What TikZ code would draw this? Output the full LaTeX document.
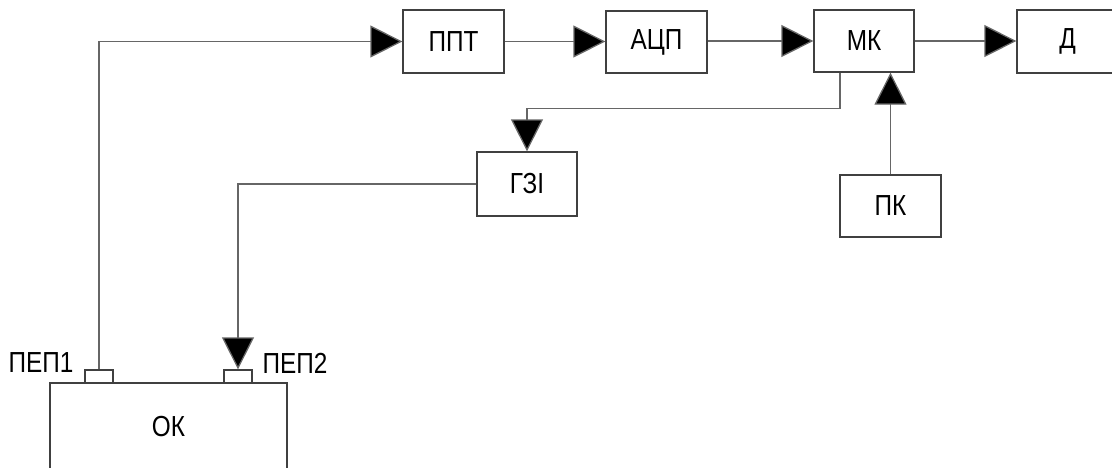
\documentclass[tikz,border=0pt]{standalone}
\usepackage{fontspec}
\setmainfont[FakeStretch=0.84]{Liberation Sans}
\usetikzlibrary{arrows.meta}
\begin{document}
\begin{tikzpicture}[x=1pt,y=-1pt,
  blk/.style={draw=black!75, line width=1.3pt, fill=white, inner sep=0pt, font=\fontsize{29}{33}\selectfont},
  pep/.style={draw=black!75, line width=1.3pt, fill=white, inner sep=0pt, minimum width=28pt, minimum height=13pt},
  lbl/.style={inner sep=0pt, font=\fontsize{29}{33}\selectfont},
  conn/.style={draw=black!60, line width=1.3pt},
  arr/.style={conn, -{Triangle[length=32pt,width=32pt,fill=black]}}]
\useasboundingbox (0,0) rectangle (1112,467);
\node[blk, minimum width=101pt, minimum height=63pt] (ppt) at (453.5,41.5) {ППТ};
\node[blk, minimum width=101pt, minimum height=62pt] (adc) at (656.5,42) {АЦП};
\node[blk, minimum width=100pt, minimum height=62pt] (mk) at (864,41) {МК};
\node[blk, minimum width=101pt, minimum height=63pt] (d) at (1067.5,41.5) {Д};
\node[blk, minimum width=101pt, minimum height=62pt] (pk) at (890.5,206) {ПК};
\node[blk, minimum width=100pt, minimum height=64pt] (gzi) at (527,184) {ГЗІ};
\node[blk, minimum width=237pt, minimum height=88pt] (ok) at (168.5,427) {ОК};
\node[pep] (pep1) at (99,376.5) {};
\node[pep] (pep2) at (238,376.5) {};
\node[lbl] (l1) at (41,363) {ПЕП1};
\node[lbl] (l2) at (295,363) {ПЕП2};
\draw[arr] (pep1.north) |- (ppt.west);
\draw[arr] (ppt.east) -- (adc.west |- ppt.east);
\draw[arr] (adc.east |- mk.west) -- (mk.west);
\draw[arr] (mk.east) -- (d.west |- mk.east);
\draw[arr] ([xshift=-24pt]mk.south) -- ++(0,36) -| (gzi.north);
\draw[arr] (pk.north) -- (pk.north |- mk.south);
\draw[arr] (gzi.west) -| (pep2.north);
\end{tikzpicture}
\end{document}
